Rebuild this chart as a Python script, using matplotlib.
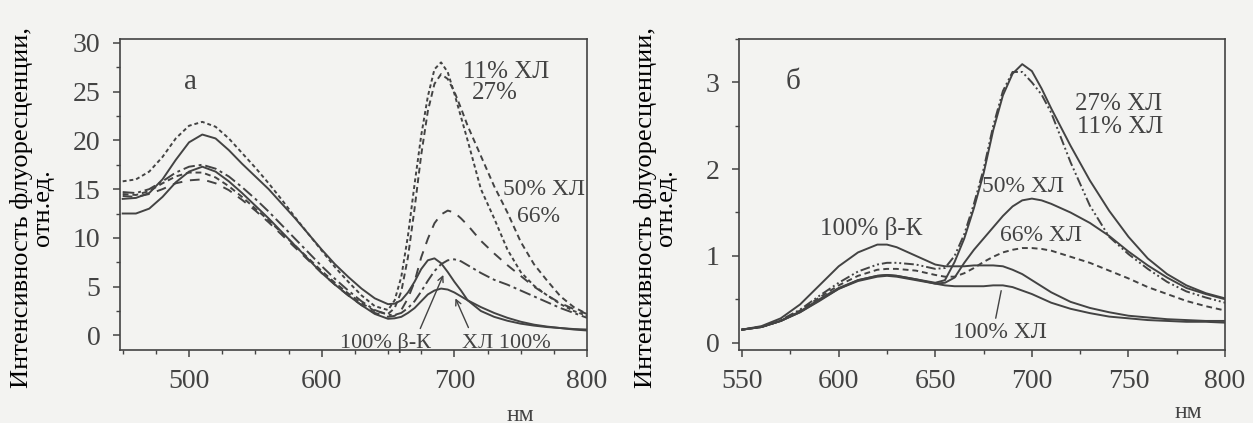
import matplotlib
matplotlib.use("Agg")
import matplotlib.pyplot as plt
from matplotlib.ticker import MultipleLocator

# panel a: wavelength grid, nm
wl_a = [450, 460, 470, 480, 490, 500, 510, 520, 530, 540, 550, 560, 570, 580,
        590, 600, 610, 620, 630, 640, 650, 655, 660, 665, 670, 675, 680, 685,
        690, 695, 700, 705, 710, 720, 730, 740, 750, 760, 770, 780, 790, 800]

bk_a = [14.0, 14.1, 14.6, 16.0, 18.0, 19.8, 20.6, 20.2, 19.0, 17.6, 16.3, 15.0,
        13.5, 12.0, 10.4, 8.8, 7.3, 6.0, 4.8, 3.8, 3.2, 3.25, 3.6, 4.4, 5.5,
        6.8, 7.7, 7.9, 7.4, 6.5, 5.5, 4.6, 3.6, 2.5, 1.9, 1.5, 1.2, 1.0, 0.85,
        0.75, 0.65, 0.6]
chl_a = [12.5, 12.5, 13.0, 14.2, 15.7, 16.8, 17.3, 16.8, 15.8, 14.6, 13.3, 12.0,
         10.6, 9.2, 7.8, 6.4, 5.2, 4.1, 3.1, 2.2, 1.7, 1.75, 1.9, 2.3, 2.8, 3.5,
         4.2, 4.6, 4.8, 4.7, 4.4, 4.0, 3.6, 2.9, 2.3, 1.8, 1.4, 1.1, 0.9, 0.75,
         0.6, 0.5]
c11_a = [15.8, 16.0, 16.8, 18.3, 20.2, 21.5, 21.9, 21.4, 20.2, 18.7, 17.2, 15.6,
         13.9, 12.1, 10.4, 8.7, 7.0, 5.5, 4.1, 3.0, 2.6, 3.6, 6.0, 10.2, 15.5,
         20.5, 24.5, 27.3, 28.0, 27.0, 24.8, 22.4, 20.0, 15.0, 12.0, 8.8, 6.5,
         5.1, 4.1, 3.2, 2.5, 2.0]
c27_a = [14.5, 14.4, 14.8, 15.6, 16.3, 16.7, 16.7, 16.2, 15.3, 14.2, 13.0, 11.8,
         10.5, 9.2, 7.9, 6.6, 5.4, 4.3, 3.3, 2.5, 2.2, 2.8, 4.5, 8.0, 13.0, 18.5,
         23.0, 25.8, 26.8, 26.3, 25.0, 23.3, 21.5, 18.4, 15.3, 12.6, 9.6, 7.3,
         5.6, 4.0, 2.9, 2.2]
c50_a = [14.3, 14.2, 14.5, 15.0, 15.6, 15.9, 16.0, 15.6, 14.9, 13.9, 12.8, 11.6,
         10.3, 9.0, 7.7, 6.4, 5.2, 4.1, 3.1, 2.3, 1.9, 2.0, 2.6, 3.8, 5.5, 8.0,
         9.9, 11.5, 12.4, 12.8, 12.6, 12.0, 11.3, 9.7, 8.4, 7.2, 6.1, 5.0, 4.1,
         3.3, 2.7, 2.2]
c66_a = [14.7, 14.6, 15.0, 15.8, 16.7, 17.3, 17.5, 17.1, 16.3, 15.2, 14.0, 12.7,
         11.3, 9.9, 8.5, 7.1, 5.8, 4.6, 3.5, 2.6, 2.1, 2.1, 2.3, 2.8, 3.5, 4.5,
         5.6, 6.6, 7.3, 7.7, 7.8, 7.6, 7.2, 6.4, 5.7, 5.2, 4.6, 4.0, 3.4, 2.8,
         2.3, 1.8]

# panel б
wl_b = [550, 560, 570, 580, 590, 600, 610, 620, 625, 630, 640, 650, 655, 660,
        665, 670, 675, 680, 685, 690, 695, 700, 705, 710, 720, 730, 740, 750,
        760, 770, 780, 790, 800]

c27_b = [0.15, 0.18, 0.25, 0.36, 0.50, 0.63, 0.72, 0.77, 0.78, 0.77, 0.73, 0.69,
         0.72, 0.93, 1.2, 1.55, 1.95, 2.45, 2.85, 3.1, 3.21, 3.13, 2.93, 2.7,
         2.27, 1.87, 1.52, 1.22, 0.97, 0.79, 0.66, 0.57, 0.51]
c11_b = [0.15, 0.18, 0.26, 0.38, 0.54, 0.69, 0.82, 0.90, 0.92, 0.92, 0.90, 0.85,
         0.86, 1.0, 1.25, 1.6, 2.0, 2.5, 2.9, 3.12, 3.12, 3.0, 2.86, 2.65,
         2.08, 1.58, 1.22, 1.02, 0.85, 0.70, 0.59, 0.52, 0.46]
c50_b = [0.15, 0.18, 0.25, 0.35, 0.49, 0.62, 0.71, 0.76, 0.77, 0.76, 0.72, 0.68,
         0.69, 0.75, 0.92, 1.07, 1.2, 1.33, 1.46, 1.57, 1.64, 1.66, 1.64, 1.6,
         1.5, 1.38, 1.23, 1.05, 0.89, 0.75, 0.63, 0.56, 0.5]
c66_b = [0.15, 0.18, 0.25, 0.37, 0.52, 0.66, 0.77, 0.84, 0.85, 0.85, 0.83, 0.78,
         0.76, 0.76, 0.8, 0.86, 0.93, 0.99, 1.04, 1.07, 1.09, 1.09, 1.08, 1.06,
         0.99, 0.92, 0.83, 0.74, 0.64, 0.56, 0.48, 0.42, 0.37]
bk_b = [0.15, 0.19, 0.28, 0.44, 0.66, 0.88, 1.04, 1.13, 1.13, 1.1, 1.0, 0.9,
        0.88, 0.88, 0.88, 0.89, 0.89, 0.89, 0.88, 0.84, 0.79, 0.72, 0.65, 0.58,
        0.47, 0.4, 0.35, 0.31, 0.29, 0.27, 0.26, 0.25, 0.25]
chl_b = [0.15, 0.18, 0.25, 0.35, 0.48, 0.62, 0.72, 0.77, 0.78, 0.77, 0.73, 0.68,
         0.66, 0.65, 0.65, 0.65, 0.65, 0.66, 0.66, 0.64, 0.6, 0.56, 0.51, 0.46,
         0.39, 0.34, 0.3, 0.28, 0.26, 0.25, 0.24, 0.24, 0.23]

ink = "#434343"
paper = "#f3f3f1"

plt.rcParams["font.family"] = ["Liberation Serif", "DejaVu Serif"]
plt.rcParams["text.color"] = ink
plt.rcParams["axes.edgecolor"] = ink
plt.rcParams["xtick.color"] = ink
plt.rcParams["ytick.color"] = ink

fig = plt.figure(figsize=(12.53, 4.23), dpi=100, facecolor=paper)
ax_a = fig.add_axes([0.0958, 0.1726, 0.3727, 0.7352])
ax_b = fig.add_axes([0.5898, 0.1726, 0.3879, 0.7352])

lw = 1.4
ylab = "Интенсивность флуоресценции,\nотн.ед."


def style_axes(ax):
    ax.set_facecolor(paper)
    for s in ax.spines.values():
        s.set_linewidth(1.2)
    ax.tick_params(which="major", direction="out", length=5, width=1.1,
                   labelsize=20, pad=9)
    ax.tick_params(which="minor", direction="out", length=3, width=1.0)
    ax.set_ylabel(ylab, fontsize=19, linespacing=0.9)


# ---- panel a ----
ax = ax_a
style_axes(ax)
ax.plot(wl_a, c11_a, color=ink, lw=lw, ls=(0, (2, 1.5)))
ax.plot(wl_a, c27_a, color=ink, lw=lw, ls=(0, (3, 2)))
ax.plot(wl_a, c50_a, color=ink, lw=lw, ls=(0, (5, 4)))
ax.plot(wl_a, c66_a, color=ink, lw=lw, ls=(0, (6, 2, 1.5, 2)))
ax.plot(wl_a, bk_a, color=ink, lw=lw)
ax.plot(wl_a, chl_a, color=ink, lw=lw)
ax.set_xlim(448, 800)
ax.set_ylim(-1.5, 30.4)
ax.set_xticks([500, 600, 700, 800])
ax.set_yticks(range(0, 31, 5))
ax.xaxis.set_minor_locator(MultipleLocator(25))
ax.yaxis.set_minor_locator(MultipleLocator(2.5))
ax.yaxis.set_label_coords(-0.142, 0.457)

ax.text(500.8, 26.0, "а", fontsize=21, ha="center", va="center")
ax.text(706.5, 27.0, "11% ХЛ", fontsize=18, va="center")
ax.text(713.3, 24.9, "27%", fontsize=18, va="center")
ax.text(736.6, 15.0, "50% ХЛ", fontsize=17, va="center")
ax.text(747.2, 12.2, "66%", fontsize=17, va="center")
ax.text(613.8, -0.8, "100% β-К", fontsize=16, va="center")
ax.text(705.7, -0.8, "ХЛ 100%", fontsize=16, va="center")
arrow = dict(arrowstyle="->", color=ink, lw=1.0, shrinkA=0, shrinkB=0)
ax.annotate("", xy=(691.7, 6.2), xytext=(674.3, 0.7), arrowprops=arrow)
ax.annotate("", xy=(700.8, 3.8), xytext=(710.6, 0.8), arrowprops=arrow)
fig.text(520 / 1253, 1 - 415 / 423, "нм", fontsize=17, ha="center",
         va="center")

# ---- panel б ----
ax = ax_b
style_axes(ax)
ax.plot(wl_b, c27_b, color=ink, lw=lw)
ax.plot(wl_b, c11_b, color=ink, lw=lw, ls=(0, (5, 1.5, 1, 1.5, 1, 1.5)))
ax.plot(wl_b, c50_b, color=ink, lw=lw)
ax.plot(wl_b, c66_b, color=ink, lw=lw, ls=(0, (3, 2)))
ax.plot(wl_b, bk_b, color=ink, lw=lw)
ax.plot(wl_b, chl_b, color=ink, lw=lw)
ax.set_xlim(548.4, 800)
ax.set_ylim(-0.085, 3.5)
ax.set_xticks(range(550, 801, 50))
ax.set_yticks([0, 1, 2, 3])
ax.xaxis.set_minor_locator(MultipleLocator(25))
ax.yaxis.set_minor_locator(MultipleLocator(0.5))
ax.yaxis.set_label_coords(-0.127, 0.457)

ax.text(576.4, 3.01, "б", fontsize=21, ha="center", va="center")
ax.text(590.4, 1.31, "100% β-К", fontsize=18, va="center")
ax.text(722.4, 2.75, "27% ХЛ", fontsize=18, va="center")
ax.text(723.4, 2.49, "11% ХЛ", fontsize=18, va="center")
ax.text(674.2, 1.80, "50% ХЛ", fontsize=17, va="center")
ax.text(683.5, 1.23, "66% ХЛ", fontsize=17, va="center")
ax.text(659.2, 0.12, "100% ХЛ", fontsize=17, va="center")
ax.annotate("", xy=(684.4, 0.63), xytext=(681.0, 0.25),
            arrowprops=dict(arrowstyle="-", color=ink, lw=1.0))
fig.text(1188 / 1253, 1 - 412 / 423, "нм", fontsize=17, ha="center",
         va="center")

fig.savefig("out.png", dpi=100, facecolor=paper)
